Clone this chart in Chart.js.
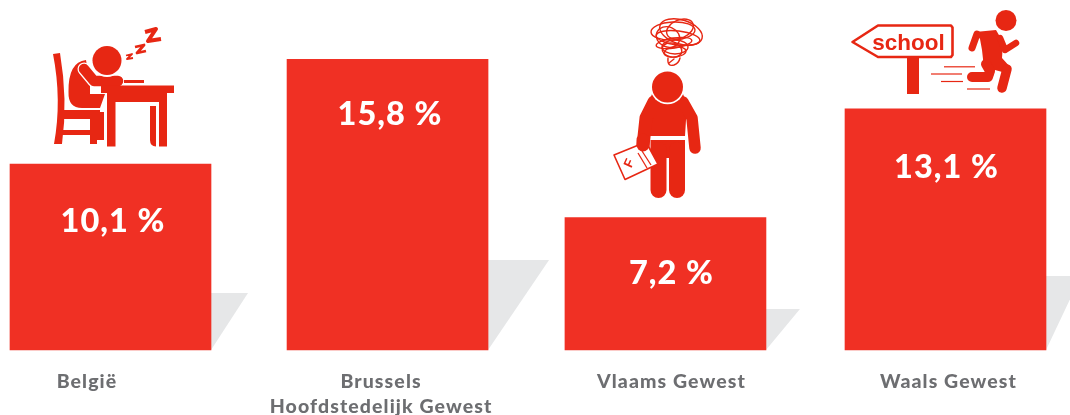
<!DOCTYPE html>
<html><head><meta charset="utf-8">
<style>html,body{margin:0;padding:0;background:#fff}#wrap{width:1070px;height:415px;position:relative;overflow:hidden}</style>
<script src="https://cdn.jsdelivr.net/npm/chart.js@4"></script>
</head><body><div id="wrap"><canvas id="c" width="1070" height="415"></canvas></div>
<script>
const categories = ["België", ["Brussels", "Hoofdstedelijk Gewest"], "Vlaams Gewest", "Waals Gewest"];
const values = [10.1, 15.8, 7.2, 13.1];
const valueLabels = ["10,1 %", "15,8 %", "7,2 %", "13,1 %"];

const BAR = "#f03024", ICON = "#e72713", GREY = "#e6e7e8", TEXT = "#6d6e71";
const barNudge = [0, -1.3, -1.7, 0];
const labelDx = [-23.5, -6.5, 6, 3];
const valueDx = [2.5, 2.5, 6, 1];
const valueDy = [57.8, 55.6, 56.5, 58.5];
const shadowH = [57, 90, 41, 74];
const shadowW = [37, 61, 34, 35];

function poly(ctx, pts, fill = true) {
  ctx.beginPath();
  pts.forEach((p, i) => i ? ctx.lineTo(p[0], p[1]) : ctx.moveTo(p[0], p[1]));
  ctx.closePath();
  fill ? ctx.fill() : ctx.stroke();
}
function line(ctx, pts, w, cap = "round") {
  ctx.lineWidth = w; ctx.lineCap = cap; ctx.lineJoin = "round";
  ctx.beginPath();
  pts.forEach((p, i) => i ? ctx.lineTo(p[0], p[1]) : ctx.moveTo(p[0], p[1]));
  ctx.stroke();
}
function circle(ctx, x, y, r) { ctx.beginPath(); ctx.arc(x, y, r, 0, Math.PI * 2); ctx.fill(); }

function sleeper(ctx) {
  ctx.fillStyle = ICON; ctx.strokeStyle = ICON;
  // chair
  ctx.beginPath(); ctx.moveTo(53, 54); ctx.lineTo(60, 53); ctx.quadraticCurveTo(68, 100, 62, 144);
  ctx.lineTo(54, 144); ctx.quadraticCurveTo(62, 100, 53, 54); ctx.fill();
  ctx.fillRect(62, 110, 38, 9);
  ctx.fillRect(62, 130, 30, 5);
  ctx.fillRect(90, 112, 14, 28);
  ctx.fillRect(90, 130, 7, 14);
  // torso
  ctx.beginPath(); ctx.moveTo(86, 60); ctx.quadraticCurveTo(68, 62, 68.5, 92);
  ctx.quadraticCurveTo(68, 108, 82, 108); ctx.lineTo(100, 108); ctx.lineTo(105, 94); ctx.lineTo(90, 94); ctx.lineTo(90, 85); ctx.closePath(); ctx.fill();
  // arm, with white edge
  ctx.strokeStyle = "#fff"; line(ctx, [[84, 69], [94, 81], [118, 81]], 13);
  ctx.strokeStyle = ICON; line(ctx, [[84, 69], [94, 81], [118, 81]], 10.5);
  // head
  ctx.fillStyle = "#fff"; circle(ctx, 107, 61, 16);
  ctx.fillStyle = ICON; circle(ctx, 107, 60.5, 14.5);
  // notebook + table
  ctx.fillRect(124, 80, 20, 3);
  ctx.fillRect(101, 85.5, 73, 7.5);
  ctx.fillRect(107, 92, 60, 10);
  ctx.fillRect(107, 100, 8.5, 46.5);
  ctx.fillRect(159, 100, 8, 46.5);
  ctx.beginPath(); ctx.moveTo(150, 106); ctx.lineTo(156, 106); ctx.lineTo(156, 146.5); ctx.quadraticCurveTo(150, 146, 150, 140); ctx.closePath(); ctx.fill();
  // zzz
  ctx.strokeStyle = ICON;
  line(ctx, [[145, 32], [156, 29], [148, 41], [161, 39]], 4, "butt");
  line(ctx, [[135, 47], [144, 45], [137, 53], [146, 51]], 2.8, "butt");
  line(ctx, [[126, 55.5], [132, 54], [127, 59], [133, 58]], 1.8, "butt");
}

function confused(ctx) {
  ctx.fillStyle = ICON; ctx.strokeStyle = ICON;
  // torso and arms
  ctx.beginPath(); ctx.moveTo(652, 94); ctx.quadraticCurveTo(667, 108, 683, 94);
  ctx.lineTo(687, 104); ctx.lineTo(685, 136); ctx.lineTo(650, 136); ctx.lineTo(648, 104); ctx.closePath(); ctx.fill();
  line(ctx, [[654, 102], [646, 118], [643, 146]], 13);
  line(ctx, [[683, 102], [692, 118], [695, 148]], 11.5);
  ctx.fillStyle = "#fff"; circle(ctx, 667.5, 87, 17.2);
  ctx.fillStyle = ICON; circle(ctx, 667.5, 87, 15.5);
  // hips and legs
  ctx.fillRect(650.5, 140, 34.5, 18);
  line(ctx, [[658.5, 150], [658.5, 190]], 16);
  line(ctx, [[677, 150], [677, 190]], 16);
  // paper
  ctx.save();
  ctx.fillStyle = "#fff";
  poly(ctx, [[614, 155], [646, 142], [658, 164], [625, 179.5]]);
  ctx.lineWidth = 1.6; ctx.strokeStyle = ICON;
  poly(ctx, [[614, 155], [646, 142], [658, 164], [625, 179.5]], false);
  line(ctx, [[638, 153], [647, 168]], 1.3, "butt");
  line(ctx, [[642, 151], [651, 165]], 1.3, "butt");
  ctx.translate(629.5, 163.5); ctx.rotate(-1.15);
  ctx.fillStyle = ICON; ctx.font = "bold 13px 'Liberation Sans'"; ctx.textAlign = "center"; ctx.textBaseline = "middle";
  ctx.fillText("F", 0, 0);
  ctx.restore();
  // hand over paper
  ctx.strokeStyle = ICON; line(ctx, [[643, 140], [643, 145]], 13);
  // scribble
  ctx.strokeStyle = ICON; ctx.lineWidth = 1.4; ctx.lineCap = "round";
  const loops = [[673, 31, 22, 9, -.05], [681, 32, 22, 12, .3], [678, 38, 22, 7, .12], [675, 47, 13, 7, 0], [675, 52, 11, 5, -.1], [680, 29, 14, 9, -.4], [668, 37, 12, 10, .4], [674, 43, 18, 5, -.15], [672, 50, 10, 7, .2]];
  loops.forEach(l => { ctx.beginPath(); ctx.ellipse(l[0], l[1], l[2], l[3], l[4], 0, Math.PI * 2); ctx.stroke(); });
  ctx.beginPath(); ctx.moveTo(668, 58); ctx.quadraticCurveTo(667, 67, 674, 65); ctx.quadraticCurveTo(679, 63, 680, 58); ctx.stroke();
  ctx.beginPath(); ctx.moveTo(669, 63); ctx.lineTo(674, 59); ctx.stroke();
}

function runner(ctx) {
  ctx.fillStyle = ICON; ctx.strokeStyle = ICON;
  ctx.lineWidth = 2.6; ctx.lineJoin = "round";
  poly(ctx, [[852.5, 42], [878, 25.5], [951, 25.5], [952.5, 27.5], [952.5, 55], [951, 57], [878, 57]], false);
  ctx.fillRect(907, 58, 12, 36);
  ctx.font = "bold 22.5px 'Liberation Sans'"; ctx.textAlign = "center"; ctx.textBaseline = "alphabetic";
  ctx.fillText("school", 908.5, 49.5);
  // speed lines
  line(ctx, [[944, 66.8], [975, 66.8]], 1.2, "butt");
  line(ctx, [[931, 74], [962, 74]], 1.2, "butt");
  line(ctx, [[941, 81.5], [963, 81.5]], 1.2, "butt");
  line(ctx, [[967, 89], [990, 89]], 1.2, "butt");
  // runner
  circle(ctx, 1006, 20.5, 10.5);
  poly(ctx, [[975, 32], [996, 30], [1003, 42], [1002, 58], [1011, 68], [1006, 73], [995, 70], [993, 76], [984, 68], [982, 50], [980, 39]]);
  line(ctx, [[977, 34], [972, 48]], 7);
  line(ctx, [[1000, 38], [1005, 50], [1016, 43]], 6.5);
  line(ctx, [[986, 64], [990, 71], [988, 77], [972, 77]], 10);
  line(ctx, [[1007, 69], [1002, 88]], 9.5);
}

const decor = {
  id: "decor",
  afterDatasetsUpdate(chart) {
    const bars = chart.getDatasetMeta(0).data;
    bars.forEach((b, i) => { b.x += barNudge[i]; });
  },
  beforeDraw(chart) {
    const bars = chart.getDatasetMeta(0).data, ctx = chart.ctx, xs = chart.scales.x;
    xs.getLabelItems(chart.chartArea).forEach((it, i) => { it.options.translation[0] = bars[i].x + labelDx[i]; });
    ctx.letterSpacing = "1.1px";
  },
  beforeDatasetsDraw(chart) {
    const bars = chart.getDatasetMeta(0).data, ctx = chart.ctx;
    ctx.save();
    ctx.fillStyle = GREY;
    bars.forEach((b, i) => {
      const r = b.x + b.width / 2, bot = b.base;
      poly(ctx, [[r - 1, bot], [r + 0, bot], [r + shadowW[i], bot - shadowH[i]], [r - 1, bot - shadowH[i]]]);
    });
    ctx.restore();
  },
  afterDatasetsDraw(chart) {
    const bars = chart.getDatasetMeta(0).data, ctx = chart.ctx;
    ctx.save();
    ctx.fillStyle = "#fff";
    ctx.font = "900 32.5px Lato";
    ctx.letterSpacing = "1px";
    ctx.textAlign = "center"; ctx.textBaseline = "middle";
    bars.forEach((b, i) => ctx.fillText(valueLabels[i], b.x + valueDx[i], b.y + valueDy[i]));
    ctx.restore();
    ctx.save(); ctx.letterSpacing = "0px";
    sleeper(ctx); confused(ctx); runner(ctx);
    ctx.restore();
  }
};

new Chart(document.getElementById("c"), {
  type: "bar",
  data: { labels: categories, datasets: [{ data: values, backgroundColor: BAR, barThickness: 201, borderWidth: 0, clip: false }] },
  options: {
    responsive: false, animation: false,
    layout: { padding: { left: 110.5, right: 124.5, top: 0, bottom: 0 }, autoPadding: false },
    plugins: { legend: { display: false }, tooltip: { enabled: false } },
    scales: {
      y: { display: false, min: 0, max: 19.02 },
      x: {
        offset: false,
        grid: { display: false }, border: { display: false },
        afterFit(s) { s.height = 65; },
        ticks: { autoSkip: false, maxRotation: 0, minRotation: 0, padding: 11, color: TEXT,
          font: { family: "Lato", weight: "900", size: 19.5, lineHeight: 1.28 } }
      }
    }
  },
  plugins: [decor]
});
</script></body></html>
